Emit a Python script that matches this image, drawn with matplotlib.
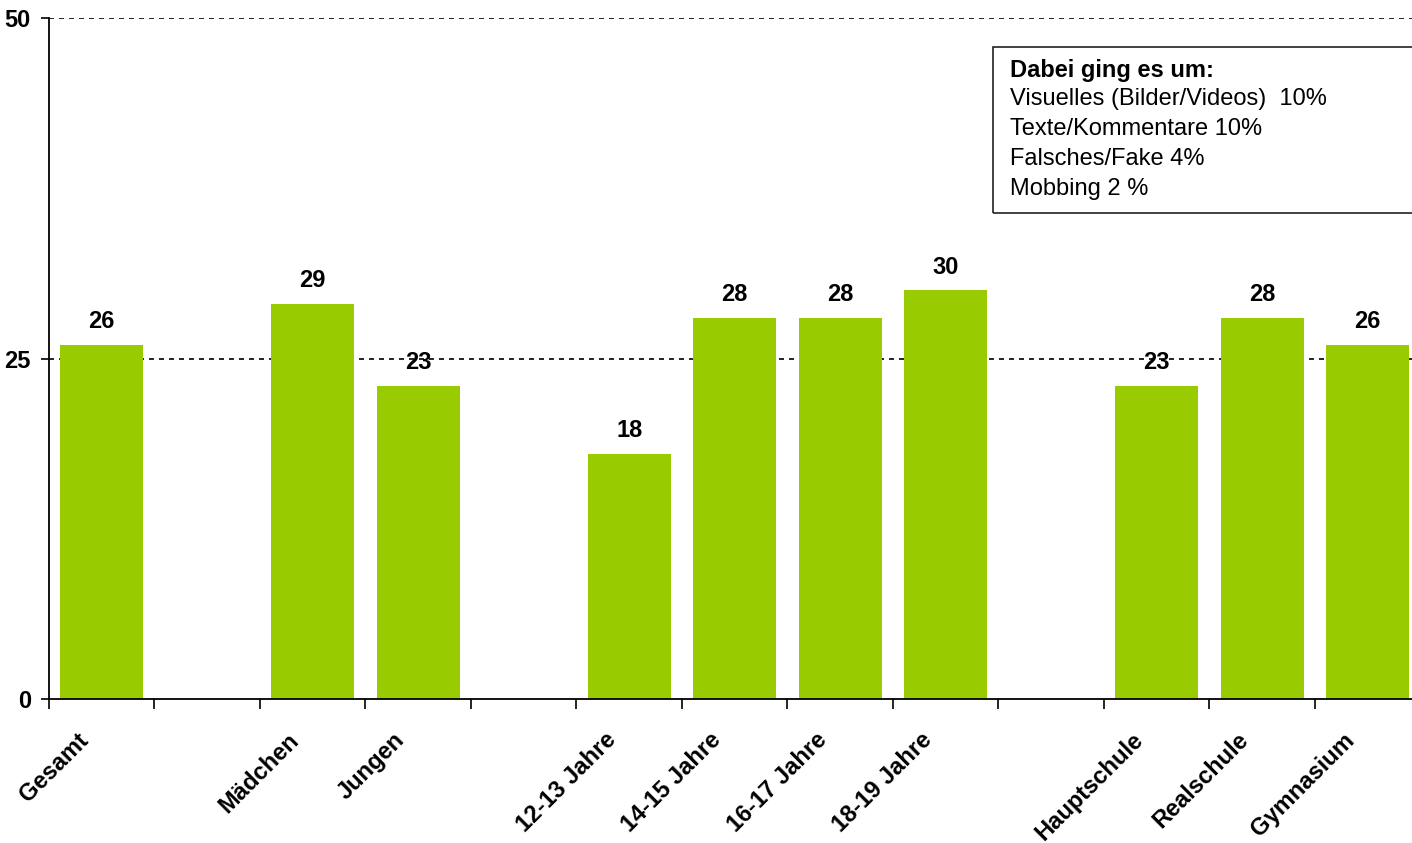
import matplotlib
matplotlib.use('Agg')
import matplotlib.pyplot as plt
from matplotlib.transforms import ScaledTranslation
import numpy as np

plt.rcParams['font.family'] = ['Liberation Sans', 'DejaVu Sans']

# categories incl. empty spacer slots ('' = gap)
categories = ['Gesamt', '', 'Mädchen', 'Jungen', '', '12-13 Jahre', '14-15 Jahre',
              '16-17 Jahre', '18-19 Jahre', '', 'Hauptschule', 'Realschule', 'Gymnasium']
values = [26, None, 29, 23, None, 18, 28, 28, 30, None, 23, 28, 26]

box_title = 'Dabei ging es um:'
box_lines = ['Visuelles (Bilder/Videos)  10%', 'Texte/Kommentare 10%',
             'Falsches/Fake 4%', 'Mobbing 2 %']

fig = plt.figure(figsize=(14.12, 8.43), dpi=100)
ax = fig.add_axes([49 / 1412, 1 - 699 / 843, 1 - 49 / 1412, (699 - 18) / 843])

x = np.arange(len(categories))
for xi, v in zip(x, values):
    if v is None:
        continue
    ax.bar(xi, v, width=0.79, color='#99CC00', zorder=2)
    ax.text(xi, v + 0.85, str(v), ha='center', va='bottom', fontsize=17,
            fontweight='bold', zorder=3)

ax.set_yticks([0, 25, 50])
ax.set_yticklabels(['0', '25', '50'], fontsize=17, fontweight='bold')
ax.tick_params(axis='y', length=6, width=1.2, pad=7)

for y in [25, 50]:
    ax.axhline(y, color='black', linestyle=(0, (3, 3)), linewidth=1.2, zorder=1)

# labels at slot centres, tick marks at slot borders
ax.set_xticks(x)
ax.set_xticklabels(categories, fontsize=17, fontweight='bold', rotation=45,
                   ha='right', va='center', rotation_mode='anchor')
ax.tick_params(axis='x', length=0, pad=27)
shift = ScaledTranslation(-17 / 100, 0, fig.dpi_scale_trans)
for lab in ax.get_xticklabels():
    lab.set_transform(lab.get_transform() + shift)
ax.set_xticks(np.arange(-0.5, 13, 1), minor=True)
ax.tick_params(axis='x', which='minor', length=7, width=1.2)

ax.set_xlim(-0.5, 12.42)
ax.set_ylim(0, 50)

for side in ['top', 'right']:
    ax.spines[side].set_visible(False)
ax.spines['left'].set_linewidth(1.3)
ax.spines['bottom'].set_linewidth(1.3)

# info box
box_x = 993 / 1412
fig.patches.append(plt.Rectangle((box_x, 1 - 213 / 843), 0.3, (213 - 47) / 843,
                                 transform=fig.transFigure, fill=False,
                                 edgecolor='#222222', linewidth=1.2))
fig.text(1010 / 1412, 1 - 71 / 843, box_title, fontsize=17, fontweight='bold', va='center')
for i, line in enumerate(box_lines):
    fig.text(1010 / 1412, 1 - (99 + i * 30) / 843, line, fontsize=17, va='center')

plt.savefig('out.png', dpi=100)
plt.close()
